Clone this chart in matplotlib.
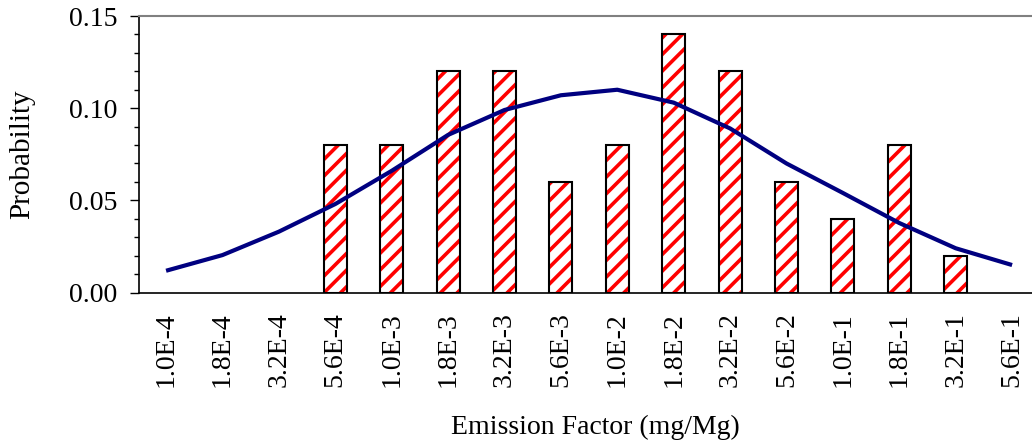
import matplotlib
matplotlib.use("Agg")
import matplotlib.pyplot as plt
import numpy as np

categories = ["1.0E-4", "1.8E-4", "3.2E-4", "5.6E-4", "1.0E-3", "1.8E-3", "3.2E-3",
              "5.6E-3", "1.0E-2", "1.8E-2", "3.2E-2", "5.6E-2", "1.0E-1", "1.8E-1",
              "3.2E-1", "5.6E-1"]
observed = [0, 0, 0, 0.08, 0.08, 0.12, 0.12, 0.06, 0.08, 0.14, 0.12, 0.06, 0.04,
            0.08, 0.02, 0]
fitted = [0.0118, 0.0203, 0.033, 0.048, 0.066, 0.0855, 0.099, 0.107, 0.110, 0.103,
          0.089, 0.070, 0.054, 0.0377, 0.024, 0.0149]
yticks = [0.00, 0.05, 0.10, 0.15]

plt.rcParams['font.family'] = ['Liberation Serif', 'DejaVu Serif']
plt.rcParams['hatch.linewidth'] = 2.6

fig = plt.figure(figsize=(10.32, 4.42), dpi=100)
ax = fig.add_axes([139/1032, 1 - 292.5/442, (1051 - 139)/1032, (292.5 - 16)/442])

x = np.arange(len(categories))
vals = np.array(observed)
mask = vals > 0
ax.bar(x[mask], vals[mask], width=0.41, color='white', edgecolor='#ff0000',
       hatch='//', linewidth=0, zorder=2)
ax.bar(x[mask], vals[mask], width=0.41, fill=False, edgecolor='black',
       linewidth=1.5, zorder=3)
ax.plot(x, fitted, color='#000080', linewidth=3, zorder=4, solid_capstyle='butt')

ax.set_xlim(-0.48, 15.69)
ax.set_ylim(0, 0.15)
ax.set_yticks(yticks)
ax.set_yticklabels([f"{v:.2f}" for v in yticks])
ax.set_yticks(np.arange(0, 0.1501, 0.01), minor=True)
ax.tick_params(axis='y', which='major', direction='out', length=6.5, width=1,
               labelsize=20, pad=9)
ax.tick_params(axis='y', which='minor', direction='out', length=3.5, width=1)
ax.set_xticks(x)
ax.set_xticklabels(categories, rotation=90, fontsize=20)
ax.tick_params(axis='x', length=0, pad=14)

ax.spines['right'].set_visible(False)
ax.spines['top'].set_color('#808080')
ax.spines['top'].set_linewidth(1.5)
ax.spines['left'].set_linewidth(1.2)
ax.spines['bottom'].set_linewidth(1.2)

ax.set_ylabel("Probability", fontsize=21, labelpad=24)
ax.set_xlabel("Emission Factor (mg/Mg)", fontsize=20, labelpad=20)

fig.savefig("out.png", dpi=100)
